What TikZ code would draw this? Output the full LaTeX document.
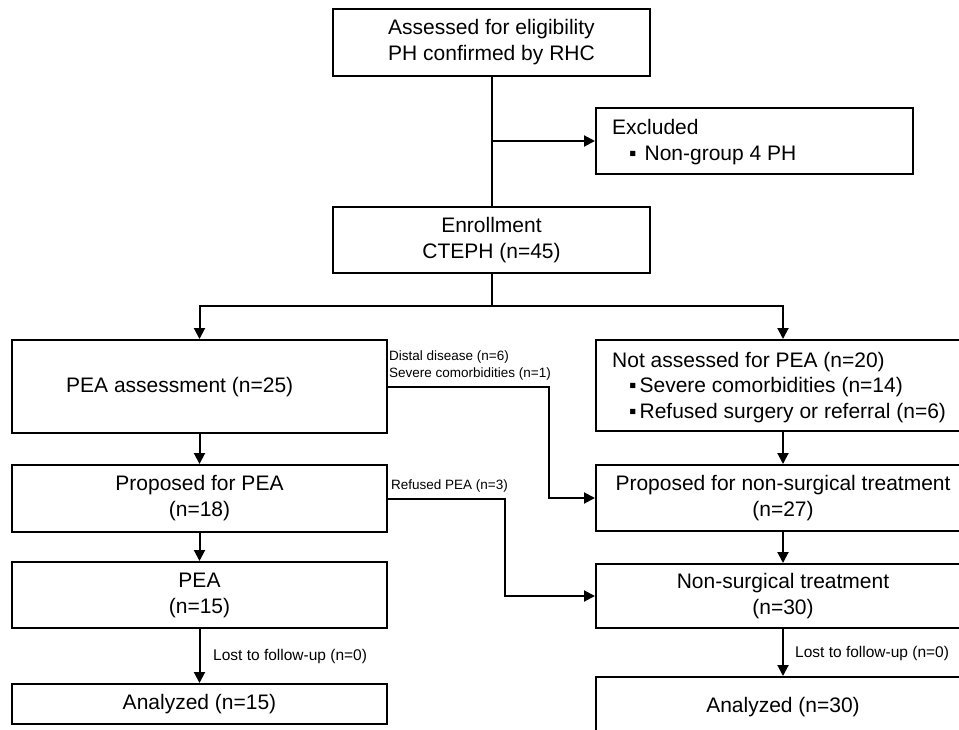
\documentclass[tikz,border=0pt]{standalone}
\usepackage{fontspec}
\setmainfont{Liberation Sans}
\usetikzlibrary{arrows.meta,calc}
\begin{document}
\begin{tikzpicture}[x=1pt,y=-1pt,
  box/.style={draw,line width=2pt,inner sep=0pt,align=center,
    font=\fontsize{21}{26}\selectfont},
  lbox/.style={box,minimum width=375pt},
  rbox/.style={box,minimum width=374pt},
  txt/.style={inner sep=0pt,align=left,anchor=west,font=\fontsize{21}{26}\selectfont},
  small/.style={inner sep=0pt,align=left,anchor=west,font=\fontsize{13.5}{17}\selectfont},
  mid/.style={inner sep=0pt,align=left,anchor=west,font=\fontsize{15.5}{19}\selectfont},
  conn/.style={line width=2pt},
  arr/.style={conn,-{Triangle[length=11pt,width=11pt]}}]
\useasboundingbox (0,0) rectangle (959,729);
\begin{scope}
\clip (0,0) rectangle (959,729);
% boxes
\node[box,minimum width=317pt,minimum height=67pt] (elig) at (491.5,42.5)
  {Assessed for eligibility\\PH confirmed by RHC};
\node[box,minimum width=317pt,minimum height=66pt] (excl) at (754.5,141) {};
\node[txt] (exclt) at (612,142.5)
  {Excluded\\\hspace*{17pt}▪\hspace*{8pt}Non-group 4 PH};
\node[box,minimum width=317pt,minimum height=66pt] (enrol) at (491.5,240)
  {Enrollment\\CTEPH (n=45)};
\node[lbox,minimum height=93pt] (pa) at (199.5,386.5) {};
\node[txt] (pat) at (66,387) {PEA assessment (n=25)};
\node[rbox,minimum height=91pt] (na) at (783,385.5) {};
\node[txt,font=\fontsize{21}{25.5}\selectfont] (nat) at (612,387.5)
  {Not assessed for PEA (n=20)\\\hspace*{17pt}▪\hspace*{3pt}Severe comorbidities (n=14)\\\hspace*{17pt}▪\hspace*{3pt}Refused surgery or referral (n=6)};
\node[lbox,minimum height=67pt] (pp) at (199.5,498.5) {Proposed for PEA\\(n=18)};
\node[rbox,minimum height=66pt] (pn) at (783,498) {Proposed for non-surgical treatment\\(n=27)};
\node[lbox,minimum height=66pt] (pea) at (199.5,595) {PEA\\(n=15)};
\node[rbox,minimum height=64pt] (ns) at (783,596) {Non-surgical treatment\\(n=30)};
\node[lbox,minimum height=40pt] (a15) at (199.5,704) {Analyzed (n=15)};
\node[rbox,minimum height=62pt] (a30) at (783,708) {};
\node[inner sep=0pt,font=\fontsize{21}{26}\selectfont] (a30t) at (783,707) {Analyzed (n=30)};
\end{scope}
% connectors
\draw[conn] (elig.south) -- (enrol.north);
\draw[arr] (elig.south |- excl.west) -- (excl.west);
\coordinate (split) at (491.5,306);
\draw[conn] (enrol.south) -- (split);
\draw[arr] (split) -| (pa.north);
\draw[arr] (split) -| (na.north);
\draw[arr] (pa.south) -- (pp.north);
\draw[arr] (na.south) -- (pn.north);
\coordinate (k1) at (549,386.5);
\draw[arr] (pa.east) -- (k1) |- (pn.west);
\coordinate (k2) at (505,498.5);
\draw[arr] (pp.east) -- (k2) |- (ns.west);
\draw[arr] (pp.south) -- (pea.north);
\draw[arr] (pn.south) -- (ns.north);
\draw[arr] (pea.south) -- (a15.north);
\draw[arr] (ns.south) -- (a30.north);
% labels
\node[small] (l1) at (389,365.5) {Distal disease (n=6)\\Severe comorbidities (n=1)};
\node[small] (l2) at (391,486) {Refused PEA (n=3)};
\node[mid] (l3) at (213,656) {Lost to follow-up (n=0)};
\node[mid] (l4) at (795,653) {Lost to follow-up (n=0)};
\end{tikzpicture}
\end{document}
